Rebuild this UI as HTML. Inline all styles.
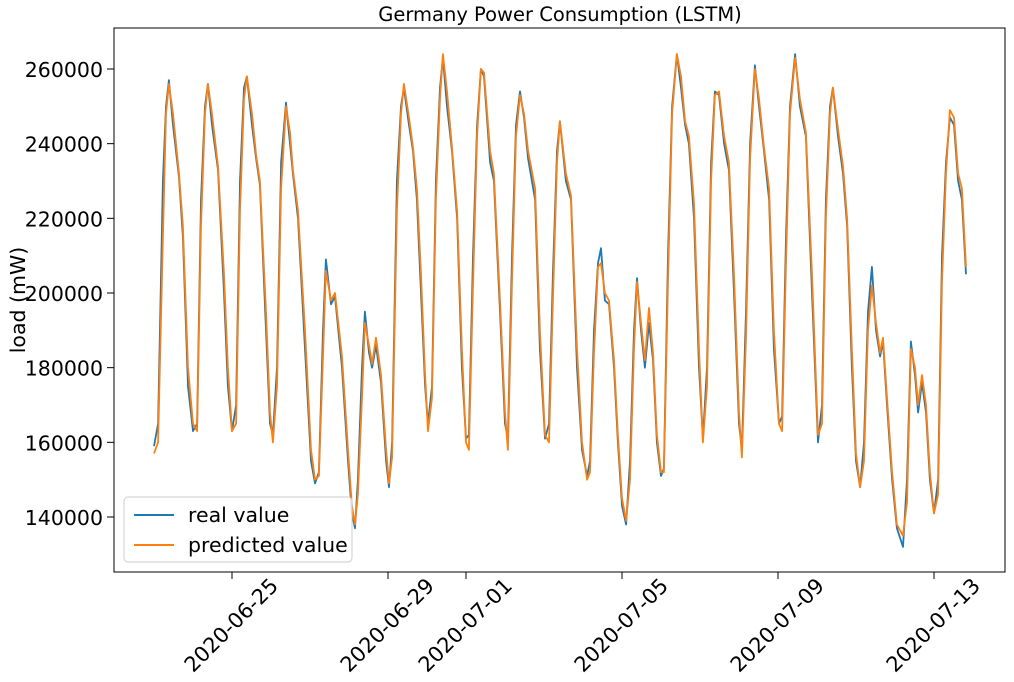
<!DOCTYPE html>
<html><head><meta charset="utf-8"><style>
body{margin:0;background:#fff;}
svg{display:block;font-family:"DejaVu Sans","Liberation Sans",sans-serif;}
</style></head><body>
<svg id="chart" width="1014" height="682">
<rect x="0" y="0" width="1014" height="682" fill="#fff"/>
<text x="560" y="21" font-size="19.5" text-anchor="middle">Germany Power Consumption (LSTM)</text>
<text transform="translate(25,300) rotate(-90)" font-size="20.5" text-anchor="middle">load (mW)</text>
<g id="axes"></g>
<g id="series"></g>
<rect x="114" y="28" width="891" height="544" fill="none" stroke="#000" stroke-width="1"/>
<g>
<rect x="124" y="497" width="228" height="65" rx="4" fill="#fff" fill-opacity="0.8" stroke="#ccc"/>
<line x1="134" y1="515" x2="174" y2="515" stroke="#1f77b4" stroke-width="2"/>
<text x="188" y="522" font-size="20.5">real value</text>
<line x1="134" y1="545" x2="174" y2="545" stroke="#ff7f0e" stroke-width="2"/>
<text x="188" y="552" font-size="20.5">predicted value</text>
</g>
</svg>
<script>
// hours since 2020-06-23 00:00
const hours=[0,2.5,5.5,7.4,9.2,11.7,15.4,17.8,20.9,24,26.5,28.9,31.4,33.2,35.7,39.4,43.1,45.5,48,50.5,52.9,55.4,57.2,60.3,62.8,65.2,68.9,71.4,73.2,75.7,78.2,81.2,83.7,85.5,88.6,92.9,96.6,99.1,101.5,104,105.8,108.9,111.4,115.7,119.4,121.8,123.7,125.5,128,129.8,132.3,134.2,136.6,139.7,142.8,144.6,146.5,149.5,152,153.8,156.9,159.4,161.8,164.3,166.8,168.6,171.1,173.5,176,177.8,180.3,183.4,186.5,189.5,192,193.8,196.3,198.8,201.2,203.1,206.8,209.2,212.9,216,217.8,220.3,222.8,225.2,227.7,230.2,234.5,237.5,240.6,243.1,245.5,248,249.8,253.5,256.6,260.3,263.4,266.5,268.3,270.8,273.2,275.1,277.5,280,283.1,285.5,288,290.5,292.9,295.4,297.2,299.7,302.1,304.6,307.1,309.5,312,313.8,316.3,318.8,321.8,324.3,326.8,329.2,332.3,335.4,337.8,340.3,342.8,345.2,347.7,350.8,353.8,356.9,360,361.8,364.3,366.8,369.8,372.3,375.4,378.5,381.5,384.6,386.5,388.9,391.4,394.5,397.5,401.2,404.9,408.6,411.1,413.5,416,417.8,420.9,424,426.5,429.5,432,434.5,436.9,439.4,441.8,444.3,446.8,448.6,451.1,454.2,457.2,460.9,463.4,465.8,468.3,470.2,472.6,475.1,477.5,480,482.5,484.9,487.4,489.8,492.3,494.8,497.2,499.7];
const realValues=[159,165,230,250,257,245,231,215,175,163,165,225,250,256,245,233,200,175,163,170,230,255,258,245,236,229,190,165,162,180,235,251,240,232,220,185,155,149,152,190,209,197,199,180,155,141,137,150,180,195,184,180,186,176,155,148,160,230,250,255,245,238,225,200,175,165,175,230,255,263,250,238,220,180,161,162,210,245,260,258,235,230,195,165,161,210,245,254,247,236,225,185,161,165,205,238,246,230,225,180,158,151,155,190,208,212,198,197,180,160,143,138,155,190,204,190,180,192,182,160,151,153,210,250,264,255,245,240,220,180,161,180,235,254,253,240,233,200,165,158,195,240,261,250,238,225,185,165,167,215,250,264,250,242,200,160,170,225,250,255,242,232,218,180,155,148,160,195,207,190,183,187,170,150,137,132,150,187,178,168,176,168,150,141,150,210,235,247,245,230,225,205];
const predValues=[157,160,215,248,256,248,232,218,180,165,163,218,248,256,248,234,205,180,163,165,222,252,258,248,237,230,195,168,160,175,228,250,243,233,222,190,158,150,151,183,206,198,200,183,158,143,138,146,172,192,186,181,188,178,158,149,156,222,248,256,247,239,228,205,178,163,172,225,252,264,254,239,222,185,160,158,202,242,260,259,238,232,198,168,158,203,242,253,248,238,228,190,162,160,198,235,246,232,226,185,160,150,152,184,207,208,200,198,182,162,145,139,150,185,203,192,182,196,184,162,152,152,203,248,264,258,246,242,224,185,160,175,230,253,254,242,235,205,168,156,188,236,260,252,239,228,190,165,163,208,248,263,252,243,205,162,165,220,248,255,244,234,220,185,157,148,155,190,202,192,184,188,172,152,138,135,144,185,180,170,178,170,152,141,146,203,232,249,247,232,228,207];
const yTicks=[140000,160000,180000,200000,220000,240000,260000];
const xTickLabels=["2020-06-25","2020-06-29","2020-07-01","2020-07-05","2020-07-09","2020-07-13"];
const xTickHours=[48,144,192,288,384,480];

const NS="http://www.w3.org/2000/svg";
const px0=154, pxPerHour=39/24;
function xs(h){return px0+h*pxPerHour;}
function ys(v){return 517-(v-140000)*448/120000;}
const axes=document.getElementById('axes');
const series=document.getElementById('series');
function mk(tag,attrs,parent){const e=document.createElementNS(NS,tag);for(const k in attrs)e.setAttribute(k,attrs[k]);parent.appendChild(e);return e;}
yTicks.forEach(v=>{
  const y=ys(v);
  const t=mk('line',{x1:107,x2:114,y1:y,y2:y,stroke:'#000'},axes);
  
  
  const l=mk('text',{x:103,y:y+8,'font-size':20.5,'text-anchor':'end'},axes);
  l.textContent=v;
  
  
});
xTickLabels.forEach((s,i)=>{
  const x=xs(xTickHours[i]);
  const t=mk('line',{x1:x,x2:x,y1:572,y2:579,stroke:'#000'},axes);
  
  
  const l=mk('text',{transform:`translate(${x},626) rotate(-45)`,'font-size':21,'text-anchor':'middle','dominant-baseline':'middle'},axes);
  l.textContent=s;
  
  
});
function line(vals,color,name){
  const d=vals.map((v,i)=>(i?'L':'M')+xs(hours[i]).toFixed(1)+','+ys(v*1000).toFixed(1)).join('');
  const p=mk('path',{d:d,fill:'none',stroke:color,'stroke-width':1.8,'stroke-linejoin':'round'},series);
  
  
}
line(realValues,'#1f77b4','real-value-line');
line(predValues,'#ff7f0e','predicted-value-line');
</script>
</body></html>
